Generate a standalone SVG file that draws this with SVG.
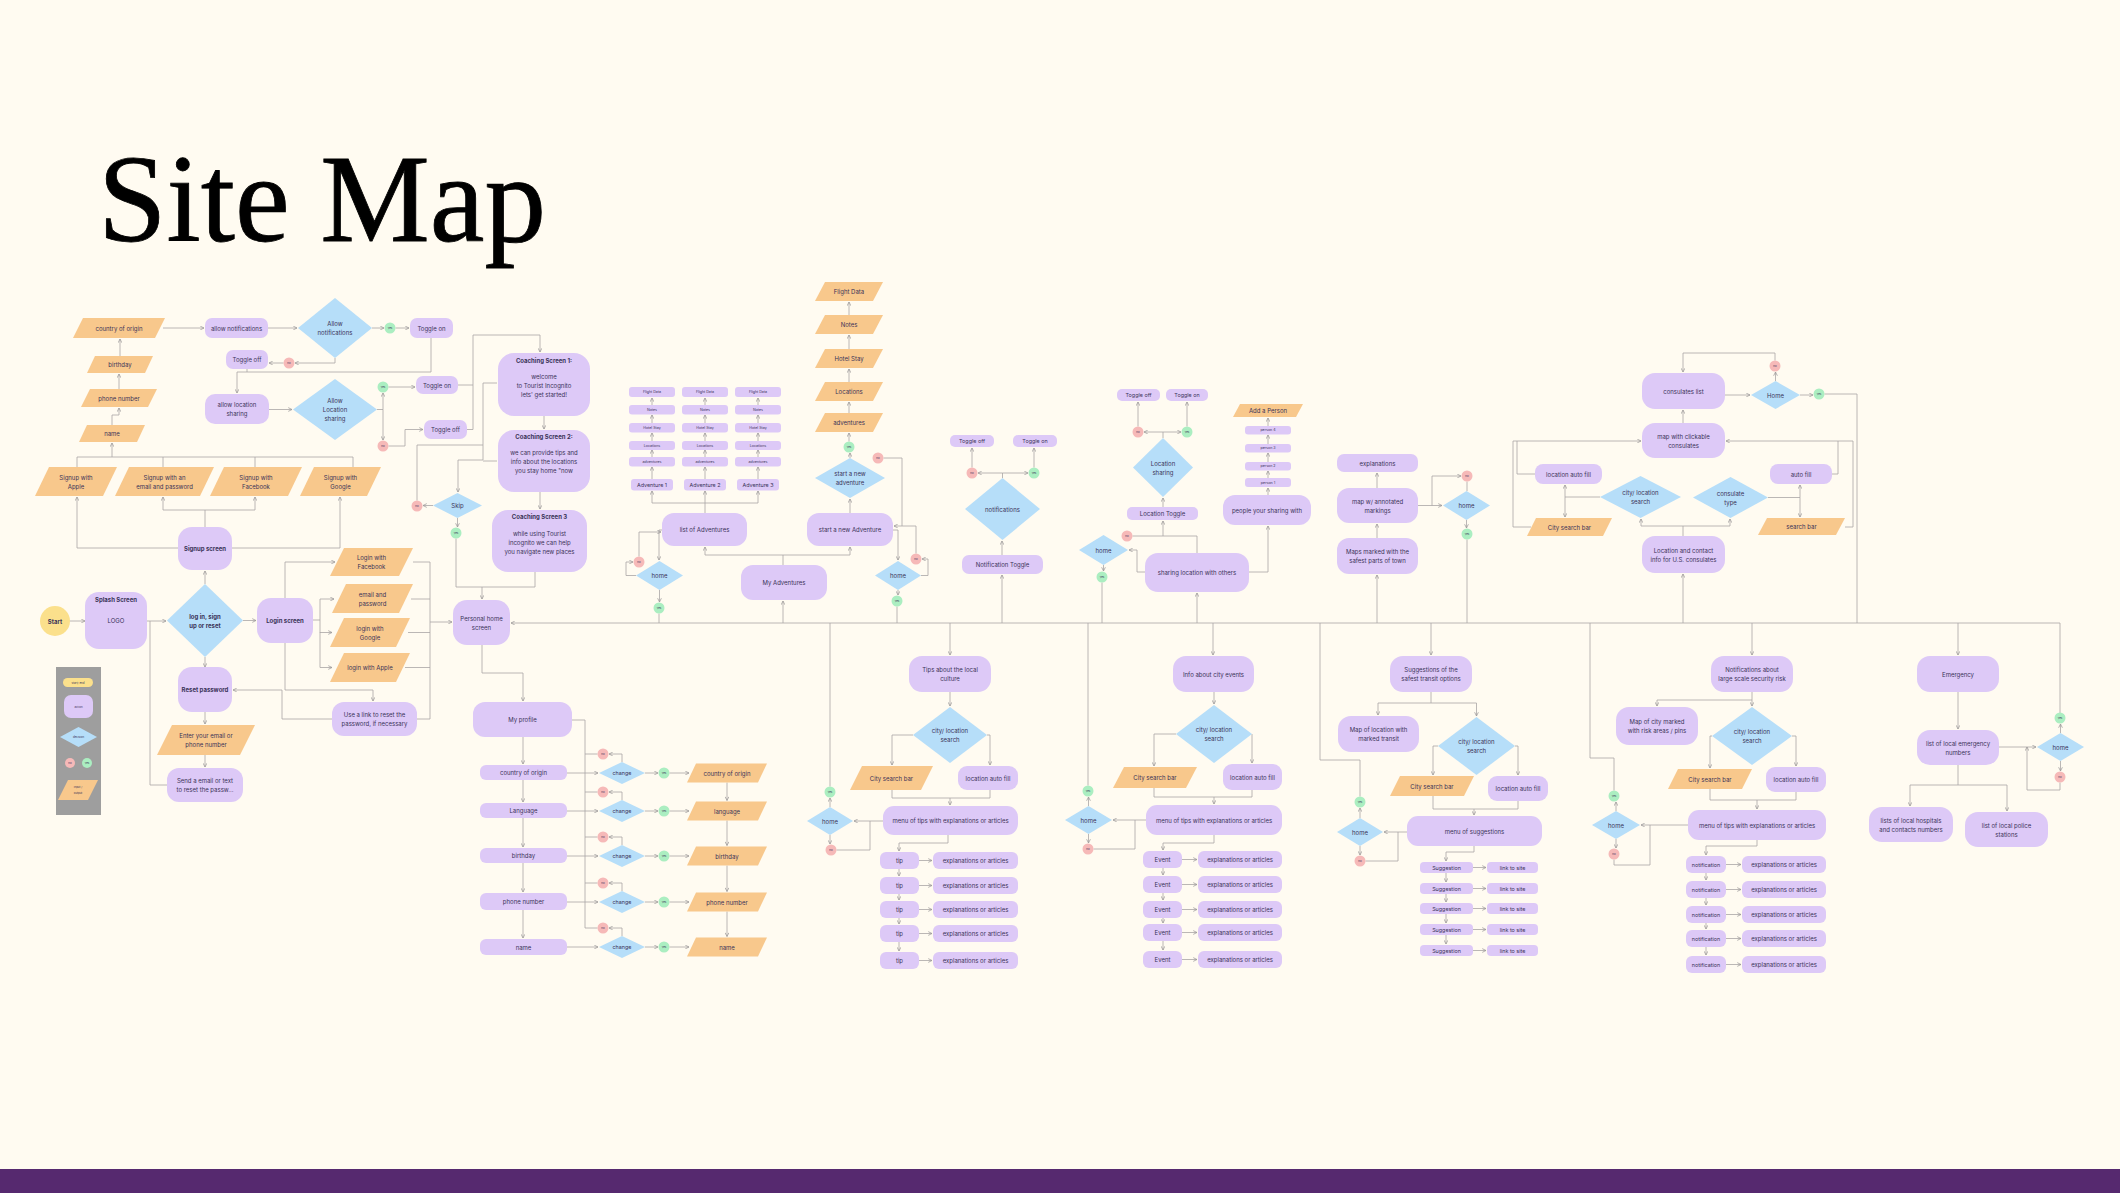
<svg xmlns="http://www.w3.org/2000/svg" width="2120" height="1193" viewBox="0 0 2120 1193">
<defs>
<marker id="a" viewBox="0 0 6 6" refX="5.5" refY="3" markerWidth="4.5" markerHeight="4.5" markerUnits="userSpaceOnUse" orient="auto"><path d="M0.5,0.5 L5.5,3 L0.5,5.5" fill="none" stroke="#9c9a9a" stroke-width="1"/></marker>
<style>
.p{fill:#DDC9F7}
.b{fill:#B6DEF9}
.o{fill:#F8C88C}
.g{fill:#ABEEC1}
.r{fill:#F6B9B8}
.yl{fill:#FBE08C}
text{font-family:Inter,"Liberation Sans",sans-serif;font-size:6px;fill:#3a3358;text-anchor:middle;dominant-baseline:central}
.bd{font-weight:700}
.s{font-size:3.6px}
.xs{font-size:2.8px}
.m{font-size:5.4px}
.title{font-family:"Liberation Serif",serif;font-size:124px;fill:#000;stroke:#000;stroke-width:0.8;text-anchor:start;dominant-baseline:auto}
#conn path{fill:none;stroke:#a9a6a6;stroke-width:0.8;marker-end:url(#a)}
#conn path.j{marker-end:none}
</style>
</defs>
<rect width="2120" height="1193" fill="#FFFBF1"/>
<rect y="1169" width="2120" height="24" fill="#56296F"/>
<text class="title" x="98" y="241" textLength="448" lengthAdjust="spacingAndGlyphs">Site Map</text>

<g id="conn">
<!-- bus -->
<path d="M2060 713 V623 H511"/>
<!-- section A -->
<path d="M69 621 H85"/>
<path d="M147 621 H166"/>
<path class="j" d="M167 785 H150 V621"/>
<path d="M205 584 V571"/>
<path d="M205 657 V667"/>
<path d="M243 620.5 H256"/>
<path d="M205 712 V724"/>
<path d="M205 755 V767"/>
<path d="M313 620 H320 V599 H334"/>
<path d="M320 620 V632.5 H332"/>
<path d="M320 632 V667.5 H332"/>
<path d="M285 598 V562 H335"/>
<path d="M285 643 V690 H373 V701"/>
<path class="j" d="M413 562 H430 V719 H417"/>
<path class="j" d="M411 599 H430 M408 632.5 H430 M405 667.5 H430"/>
<path d="M430 622 H452"/>
<path d="M332 719 H282 V690 H233"/>
<path d="M178 548 H77 V497"/>
<path d="M232 548 H340 V497"/>
<path class="j" d="M205 527 V510 M163 510 H255"/>
<path d="M163 510 V497"/>
<path d="M255 510 V497"/>
<path class="j" d="M77 467 V457 H353 V467 M163 457 V467 M255 457 V467"/>
<path d="M112 457 V443"/>
<path d="M112 425 V415 H119 V408"/>
<path d="M119 389 V374"/>
<path d="M120 356 V339"/>
<path d="M163 328 H204"/>
<path d="M268 328 H297"/>
<path d="M372 328 H384"/>
<path d="M395.5 328 H409"/>
<path d="M335 358 V363 H295"/>
<path d="M283.5 363 H269"/>
<path d="M431 338 V372 H237 V393"/>
<path class="j" d="M247 369 V372"/>
<path d="M269 409.5 H292"/>
<path d="M377 409.5 H383 V393"/>
<path d="M388.5 387 H415"/>
<path d="M383 409.5 V440"/>
<path d="M388.5 446 H405 V429.5 H423"/>
<path d="M458 385 H473 V335 H540 V352"/>
<path class="j" d="M467 429.5 H473 V385"/>
<path d="M544 416 V429"/>
<path d="M540 492 V509"/>
<path d="M497 383 H483 V460 H458 V492"/>
<path class="j" d="M497 461 H483"/>
<path d="M433 505.5 H423"/>
<path class="j" d="M417 500.5 V445 H483"/>
<path d="M457.5 518 V527"/>
<path d="M456 538.5 V587 H482 V599"/>
<path class="j" d="M535 572 V587 H482"/>
<path d="M482 645 V673 H523 V701"/>
<!-- profile -->
<path d="M523 737 V764"/>
<path d="M523 780 V802"/>
<path d="M523 818 V847"/>
<path d="M523 863 V892"/>
<path d="M523 910 V938"/>
<path class="j" d="M572 720 H585 V928"/>
<path d="M567 773 H598"/><path d="M622 762 V754 H609"/><path class="j" d="M597.5 754 H585"/><path d="M645 773 H658"/><path d="M669.5 773 H689"/>
<path d="M567 811 H598"/><path d="M622 800 V792 H609"/><path class="j" d="M597.5 792 H585"/><path d="M645 811 H658"/><path d="M669.5 811 H689"/>
<path d="M567 856 H598"/><path d="M622 845 V837 H609"/><path class="j" d="M597.5 837 H585"/><path d="M645 856 H658"/><path d="M669.5 856 H689"/>
<path d="M567 902 H598"/><path d="M622 891 V883 H609"/><path class="j" d="M597.5 883 H585"/><path d="M645 902 H658"/><path d="M669.5 902 H689"/>
<path d="M567 947 H598"/><path d="M622 936 V928 H609"/><path class="j" d="M597.5 928 H585"/><path d="M645 947 H658"/><path d="M669.5 947 H689"/>
<path d="M727 782.5 V800.5"/>
<path d="M727 820.5 V845.5"/>
<path d="M727 865.5 V891.5"/>
<path d="M727 911.5 V936.5"/>
<!-- adventures -->
<path d="M783 623 V601"/>
<path d="M783 565 V555 H705 V547"/>
<path d="M783 555 H850 V547"/>
<path d="M705 513 V503 H652 V491"/>
<path d="M705 503 V491"/>
<path d="M705 503 H758 V491"/>
<path d="M652 479 V467"/><path d="M652 457 V450"/><path d="M652 441 V433"/><path d="M652 423 V415"/><path d="M652 405 V398"/>
<path d="M705 479 V467"/><path d="M705 457 V450"/><path d="M705 441 V433"/><path d="M705 423 V415"/><path d="M705 405 V398"/>
<path d="M758 479 V467"/><path d="M758 457 V450"/><path d="M758 441 V433"/><path d="M758 423 V415"/><path d="M758 405 V398"/>
<path d="M662 530 H659 V560"/>
<path d="M636 575.5 H626 V562 H633"/>
<path d="M639 556.5 V532 H661"/>
<path d="M659.5 590 V602"/>
<path class="j" d="M659 613.5 V623"/>
<path d="M893 530 H898 V560"/>
<path d="M921 575.5 H928 V559 H922"/>
<path d="M883.5 458 H902 V526 H894"/>
<path class="j" d="M916 553.5 V526 H902"/>
<path d="M898 590 V595"/>
<path class="j" d="M897 606.5 V623"/>
<path d="M850 513 V499"/>
<path d="M850 458 V453"/>
<path d="M849 441.5 V433"/>
<path d="M849 413 V402"/>
<path d="M849 382 V369"/>
<path d="M849 349 V335"/>
<path d="M849 315 V302"/>
<!-- notification toggle -->
<path d="M1002 623 V575"/>
<path d="M1002 555 V541"/>
<path d="M1002.5 478 V473 H978"/>
<path d="M1002.5 473 H1028"/>
<path d="M972 467.5 V448"/>
<path d="M1034 467.5 V448"/>
<!-- location sharing -->
<path d="M1197 623 V593"/>
<path d="M1197 553 V536 H1163 V521"/>
<path class="j" d="M1132.5 536 H1163"/>
<path d="M1145 572 H1137 V550 H1129"/>
<path d="M1103.5 565 V571"/>
<path class="j" d="M1102 582.5 V623"/>
<path d="M1163 507 V498"/>
<path d="M1163 438 V432 H1144"/>
<path d="M1163 432 H1181"/>
<path d="M1138 426.5 V402"/>
<path d="M1187 426.5 V402"/>
<path d="M1249 572 H1268 V526"/>
<path d="M1268 495 V488"/>
<path d="M1268 478 V471"/>
<path d="M1268 462 V453"/>
<path d="M1268 444 V435"/>
<path d="M1268 426 V418"/>
<!-- safe maps -->
<path d="M1377 623 V575"/>
<path d="M1377 538 V524"/>
<path d="M1377 488 V473"/>
<path d="M1418 505.5 H1442"/>
<path d="M1432 505.5 V476 H1461"/>
<path class="j" d="M1467 481.5 V491"/>
<path d="M1466.5 520 V528"/>
<path class="j" d="M1467 539.5 V623"/>
<!-- consulates -->
<path d="M1683 623 V574"/>
<path d="M1683 536 V526 H1641 V519"/>
<path d="M1683 526 H1730 V519"/>
<path d="M1600 497 H1565 V485"/>
<path d="M1565 497 V517"/>
<path d="M1535 474 H1517 V441 H1641"/>
<path class="j" d="M1531 527 H1513 V441 H1517"/>
<path d="M1768 497.5 H1800 V485"/>
<path d="M1800 497.5 V517"/>
<path d="M1832 474 H1838 V441 H1726"/>
<path class="j" d="M1845 527 H1853 V441 H1838"/>
<path d="M1683 423 V410"/>
<path d="M1725 395 H1750"/>
<path d="M1775.5 381 V372"/>
<path d="M1775 360.5 V353 H1683 V372"/>
<path d="M1800 395 H1813"/>
<path class="j" d="M1824.5 394 H1857 V623"/>
<!-- tips -->
<path d="M950 623 V655"/>
<path d="M950 692 V706"/>
<path d="M913 735 H892 V765"/>
<path d="M987 735 H990 V765"/>
<path d="M892 790 V798 H950 V805"/>
<path class="j" d="M990 790 V798 H950"/>
<path d="M883 821 H854"/>
<path class="j" d="M836.5 850 H870 V821"/>
<path d="M830 807 V798"/>
<path class="j" d="M830 786.5 V623"/>
<path d="M830 835 V844"/>
<path d="M948 835 V843 H899 V851"/>
<path d="M899 869 V876"/><path d="M899 894 V900"/><path d="M899 918 V924"/><path d="M899 942 V951"/>
<path d="M919 860.5 H932"/><path d="M919 885.5 H932"/><path d="M919 909.5 H932"/><path d="M919 933.5 H932"/><path d="M919 960.5 H932"/>
<!-- events -->
<path d="M1213 623 V655"/>
<path d="M1214 692 V704"/>
<path d="M1176 734 H1154 V766"/>
<path d="M1252 734 V763"/>
<path d="M1154 788 V797 H1214 V804"/>
<path class="j" d="M1252 790 V797 H1214"/>
<path d="M1146 820 H1113"/>
<path class="j" d="M1093.5 849 H1135 V820"/>
<path d="M1088.5 806 V797"/>
<path class="j" d="M1088 785.5 V623"/>
<path d="M1088.5 834 V843"/>
<path d="M1214 835 V843 H1163 V850"/>
<path d="M1163 868 V875"/><path d="M1163 893 V900"/><path d="M1163 918 V923"/><path d="M1163 941 V950"/>
<path d="M1182 859.5 H1197"/><path d="M1182 884.5 H1197"/><path d="M1182 909.5 H1197"/><path d="M1182 932.5 H1197"/><path d="M1182 959.5 H1197"/>
<!-- suggestions -->
<path d="M1431 623 V655"/>
<path d="M1431 692 V703 H1378 V715"/>
<path d="M1431 703 H1476.5 V716"/>
<path d="M1438 746 H1433 V775"/>
<path d="M1515 746 H1518 V775"/>
<path d="M1433 796 V809 H1474 V815"/>
<path class="j" d="M1518 801 V809 H1474"/>
<path d="M1407 832 H1384"/>
<path class="j" d="M1365.5 861 H1398 V832"/>
<path d="M1360 818 V808"/>
<path class="j" d="M1360 796.5 V760 H1320 V623"/>
<path d="M1360 846 V855"/>
<path d="M1474 846 V852 H1446 V861"/>
<path d="M1446 873 V882"/><path d="M1446 894 V902"/><path d="M1446 914 V923"/><path d="M1446 935 V944"/>
<path d="M1473 867.5 H1486"/><path d="M1473 888.5 H1486"/><path d="M1473 908.5 H1486"/><path d="M1473 929.5 H1486"/><path d="M1473 950.5 H1486"/>
<!-- notifications -->
<path d="M1752 623 V655"/>
<path d="M1752 692 V700 H1657 V706"/>
<path d="M1752 700 V706"/>
<path d="M1712 736 H1710 V768"/>
<path d="M1792 736 H1796 V766"/>
<path d="M1710 789 V800 H1757 V809"/>
<path class="j" d="M1796 792 V800 H1757"/>
<path d="M1688 825 H1641"/>
<path class="j" d="M1614 859.5 V865 H1650 V825"/>
<path d="M1616 811 V802"/>
<path class="j" d="M1614 790.5 V758 H1590 V623"/>
<path d="M1616 839 V848"/>
<path d="M1757 840 V846 H1706 V855"/>
<path d="M1706 873 V880"/><path d="M1706 898 V905"/><path d="M1706 923 V929"/><path d="M1706 947 V955"/>
<path d="M1726 864.5 H1741"/><path d="M1726 889.5 H1741"/><path d="M1726 914.5 H1741"/><path d="M1726 938.5 H1741"/><path d="M1726 964.5 H1741"/>
<!-- emergency -->
<path d="M1958 623 V655"/>
<path d="M1958 692 V729"/>
<path d="M1958 765 V785 H1910 V806"/>
<path d="M1958 785 H2007 V811"/>
<path d="M1999 747 H2036"/>
<path d="M2060.5 761 V771"/>
<path d="M2060 782.5 V790 H2027 V747"/>
<path d="M2060.5 733 V724"/>
</g>

<!-- Legend -->
<g id="legend">
<rect x="56" y="667" width="45" height="148" fill="#9E9E9E"/>
<rect class="yl" x="63" y="678" width="30" height="9" rx="4.5"/><text class="xs" x="78" y="682.5">start/ end</text>
<rect class="p" x="64" y="695" width="29" height="23" rx="7"/><text class="xs" x="78.5" y="706.5">action</text>
<polygon class="b" points="78.5,727 97,737 78.5,747 60,737"/><text class="xs" x="78.5" y="737">decision</text>
<circle class="r" cx="70" cy="763" r="5"/><text class="xs" x="70" y="763">no</text>
<circle class="g" cx="87" cy="763" r="5"/><text class="xs" x="87" y="763">yes</text>
<polygon class="o" points="68,780 98,780 88,800 58,800"/><text class="xs" x="78" y="787">input /</text><text class="xs" x="78" y="793">output</text>
</g>

<!-- Section A -->
<g id="start"><circle class="yl" cx="55" cy="621" r="15"/><text class="bd" x="55" y="621">Start</text></g>
<g id="splash"><rect class="p" x="85" y="592" width="62" height="57" rx="14"/><text class="bd" x="116" y="599.5">Splash Screen</text><text x="116" y="620">LOGO</text></g>
<g id="d-login"><polygon class="b" points="205,584 243,620.5 205,657 167,620.5"/><text class="bd" x="205" y="616">log in, sign</text><text class="bd" x="205" y="625">up or reset</text></g>
<g id="signup-screen"><rect class="p" x="178" y="527" width="54" height="43" rx="14"/><text class="bd" x="205" y="548.5">Signup screen</text></g>
<g id="login-screen"><rect class="p" x="257" y="598" width="56" height="45" rx="14"/><text class="bd" x="285" y="620.5">Login screen</text></g>
<g id="reset-pw"><rect class="p" x="178" y="667" width="54" height="45" rx="14"/><text class="bd" x="205" y="689.5">Reset password</text></g>
<g id="enter-email"><polygon class="o" points="172,725 255,725 240,755 157,755"/><text x="206" y="735.5">Enter your email or</text><text x="206" y="744.5">phone number</text></g>
<g id="send-email"><rect class="p" x="167" y="768" width="76" height="34" rx="12"/><text x="205" y="780.5">Send a email or text</text><text x="205" y="789.5">to reset the passw...</text></g>
<g id="login-fb"><polygon class="o" points="344,548 413,548 399,576 330,576"/><text x="371.5" y="557.5">Login with</text><text x="371.5" y="566.5">Facebook</text></g>
<g id="login-email"><polygon class="o" points="346,584 413,584 399,613 332,613"/><text x="372.5" y="594">email and</text><text x="372.5" y="603">password</text></g>
<g id="login-google"><polygon class="o" points="344,618 410,618 396,647 330,647"/><text x="370" y="628">login with</text><text x="370" y="637">Google</text></g>
<g id="login-apple"><polygon class="o" points="344,653 410,653 396,682 330,682"/><text x="370" y="667.5">login with Apple</text></g>
<g id="use-link"><rect class="p" x="332" y="702" width="85" height="34" rx="12"/><text x="374.5" y="714.5">Use a link to reset the</text><text x="374.5" y="723.5">password, if necessary</text></g>
<g id="home-screen"><rect class="p" x="453" y="600" width="57" height="45" rx="14"/><text x="481.5" y="618">Personal home</text><text x="481.5" y="627">screen</text></g>
<g id="signup-apple"><polygon class="o" points="49,467 117,467 103,496 35,496"/><text x="76" y="477">Signup with</text><text x="76" y="486">Apple</text></g>
<g id="signup-email"><polygon class="o" points="129,467 214,467 200,496 115,496"/><text x="164.5" y="477">Signup with an</text><text x="164.5" y="486">email and password</text></g>
<g id="signup-fb"><polygon class="o" points="224,467 302,467 288,496 210,496"/><text x="256" y="477">Signup with</text><text x="256" y="486">Facebook</text></g>
<g id="signup-google"><polygon class="o" points="314,467 381,467 367,496 300,496"/><text x="340.5" y="477">Signup with</text><text x="340.5" y="486">Google</text></g>
<g id="name"><polygon class="o" points="87,425 145,425 137,442 79,442"/><text x="112" y="433.5">name</text></g>
<g id="phone"><polygon class="o" points="90,389 157,389 148,407 81,407"/><text x="119" y="398">phone number</text></g>
<g id="birthday"><polygon class="o" points="95,356 153,356 145,373 87,373"/><text x="120" y="364.5">birthday</text></g>
<g id="country"><polygon class="o" points="83,318 165,318 155,338 73,338"/><text x="119" y="328">country of origin</text></g>
<g id="allow-notif"><rect class="p" x="205" y="318" width="63" height="20" rx="7"/><text x="236.5" y="328">allow notifications</text></g>
<g id="d-notif"><polygon class="b" points="335,298 372,328 335,358 298,328"/><text x="335" y="323.5">Allow</text><text x="335" y="332.5">notifications</text></g>
<g id="yes1"><circle class="g" cx="390" cy="328" r="5.5"/><text class="xs" x="390" y="328">yes</text></g>
<g id="toggle-on1"><rect class="p" x="410" y="318" width="43" height="20" rx="7"/><text x="431.5" y="328">Toggle on</text></g>
<g id="no1"><circle class="r" cx="289" cy="363" r="5.5"/><text class="xs" x="289" y="363">no</text></g>
<g id="toggle-off1"><rect class="p" x="226" y="350" width="42" height="19" rx="7"/><text x="247" y="359.5">Toggle off</text></g>
<g id="allow-loc"><rect class="p" x="205" y="394" width="64" height="30" rx="10"/><text x="237" y="404.5">allow location</text><text x="237" y="413.5">sharing</text></g>
<g id="d-loc"><polygon class="b" points="335,379 377,409.5 335,440 293,409.5"/><text x="335" y="400.5">Allow</text><text x="335" y="409.5">Location</text><text x="335" y="418.5">sharing</text></g>
<g id="yes2"><circle class="g" cx="383" cy="387" r="5.5"/><text class="xs" x="383" y="387">yes</text></g>
<g id="toggle-on2"><rect class="p" x="416" y="376" width="42" height="18" rx="7"/><text x="437" y="385">Toggle on</text></g>
<g id="no2"><circle class="r" cx="383" cy="446" r="5.5"/><text class="xs" x="383" y="446">no</text></g>
<g id="toggle-off2"><rect class="p" x="424" y="420" width="43" height="19" rx="7"/><text x="445.5" y="429.5">Toggle off</text></g>
<g id="cs1"><rect class="p" x="498" y="353" width="92" height="63" rx="16"/><text class="bd" x="544" y="360">Coaching Screen 1:</text><text x="544" y="376">welcome</text><text x="544" y="385">to Tourist Incognito</text><text x="544" y="394">lets' get started!</text></g>
<g id="cs2"><rect class="p" x="498" y="430" width="92" height="62" rx="16"/><text class="bd" x="544" y="436.5">Coaching Screen 2:</text><text x="544" y="452">we can provide tips and</text><text x="544" y="461">info about the locations</text><text x="544" y="470">you stay home "now</text></g>
<g id="cs3"><rect class="p" x="492" y="510" width="95" height="62" rx="16"/><text class="bd" x="539.5" y="516.5">Coaching Screen 3</text><text x="539.5" y="533">while using Tourist</text><text x="539.5" y="542">incognito we can help</text><text x="539.5" y="551">you navigate new places</text></g>
<g id="skip"><polygon class="b" points="457.5,493 482,505.5 457.5,518 433,505.5"/><text x="457.5" y="505.5">Skip</text></g>
<g id="no3"><circle class="r" cx="417" cy="506" r="5.5"/><text class="xs" x="417" y="506">no</text></g>
<g id="yes3"><circle class="g" cx="456" cy="533" r="5.5"/><text class="xs" x="456" y="533">yes</text></g>

<!-- Profile -->
<g id="my-profile"><rect class="p" x="473" y="702" width="99" height="35" rx="12"/><text x="522.5" y="719.5">My profile</text></g>
<g id="pf-country"><rect class="p" x="480" y="765" width="87" height="15" rx="6"/><text x="523.5" y="772.5">country of origin</text></g>
<g id="pf-language"><rect class="p" x="480" y="803" width="87" height="15" rx="6"/><text x="523.5" y="810.5">Language</text></g>
<g id="pf-birthday"><rect class="p" x="480" y="848" width="87" height="15" rx="6"/><text x="523.5" y="855.5">birthday</text></g>
<g id="pf-phone"><rect class="p" x="480" y="893" width="87" height="17" rx="6"/><text x="523.5" y="901.5">phone number</text></g>
<g id="pf-name"><rect class="p" x="480" y="939" width="87" height="16" rx="6"/><text x="523.5" y="947">name</text></g>
<g id="ch1"><polygon class="b" points="622,762 645,773 622,784 599,773"/><text class="m" x="622" y="773">change</text></g>
<g id="ch2"><polygon class="b" points="622,800 645,811 622,822 599,811"/><text class="m" x="622" y="811">change</text></g>
<g id="ch3"><polygon class="b" points="622,845 645,856 622,867 599,856"/><text class="m" x="622" y="856">change</text></g>
<g id="ch4"><polygon class="b" points="622,891 645,902 622,913 599,902"/><text class="m" x="622" y="902">change</text></g>
<g id="ch5"><polygon class="b" points="622,936 645,947 622,958 599,947"/><text class="m" x="622" y="947">change</text></g>
<g id="chno1"><circle class="r" cx="603" cy="754" r="5.5"/><text class="xs" x="603" y="754">no</text></g>
<g id="chno2"><circle class="r" cx="603" cy="792" r="5.5"/><text class="xs" x="603" y="792">no</text></g>
<g id="chno3"><circle class="r" cx="603" cy="837" r="5.5"/><text class="xs" x="603" y="837">no</text></g>
<g id="chno4"><circle class="r" cx="603" cy="883" r="5.5"/><text class="xs" x="603" y="883">no</text></g>
<g id="chno5"><circle class="r" cx="603" cy="928" r="5.5"/><text class="xs" x="603" y="928">no</text></g>
<g id="chyes1"><circle class="g" cx="664" cy="773" r="5.5"/><text class="xs" x="664" y="773">yes</text></g>
<g id="chyes2"><circle class="g" cx="664" cy="811" r="5.5"/><text class="xs" x="664" y="811">yes</text></g>
<g id="chyes3"><circle class="g" cx="664" cy="856" r="5.5"/><text class="xs" x="664" y="856">yes</text></g>
<g id="chyes4"><circle class="g" cx="664" cy="902" r="5.5"/><text class="xs" x="664" y="902">yes</text></g>
<g id="chyes5"><circle class="g" cx="664" cy="947" r="5.5"/><text class="xs" x="664" y="947">yes</text></g>
<g id="in-country"><polygon class="o" points="696,763.5 767,763.5 758,782.5 687,782.5"/><text x="727" y="773">country of origin</text></g>
<g id="in-language"><polygon class="o" points="696,801.5 767,801.5 758,820.5 687,820.5"/><text x="727" y="811">language</text></g>
<g id="in-birthday"><polygon class="o" points="696,846.5 767,846.5 758,865.5 687,865.5"/><text x="727" y="856">birthday</text></g>
<g id="in-phone"><polygon class="o" points="696,892.5 767,892.5 758,911.5 687,911.5"/><text x="727" y="902">phone number</text></g>
<g id="in-name"><polygon class="o" points="696,937.5 767,937.5 758,956.5 687,956.5"/><text x="727" y="947">name</text></g>

<!-- Adventures -->
<g id="adv1"><rect class="p" x="629" y="387" width="46" height="10" rx="3"/><text class="s" x="652" y="392">Flight Data</text><rect class="p" x="629" y="405" width="46" height="9.5" rx="3"/><text class="s" x="652" y="409.7">Notes</text><rect class="p" x="629" y="423" width="46" height="9.5" rx="3"/><text class="s" x="652" y="427.7">Hotel Stay</text><rect class="p" x="629" y="441" width="46" height="9" rx="3"/><text class="s" x="652" y="445.5">Locations</text><rect class="p" x="629" y="457" width="46" height="9.5" rx="3"/><text class="s" x="652" y="461.7">adventures</text><rect class="p" x="631" y="479" width="42" height="11.5" rx="3"/><text class="m" x="652" y="484.7">Adventure 1</text></g>
<g id="adv2"><rect class="p" x="682" y="387" width="46" height="10" rx="3"/><text class="s" x="705" y="392">Flight Data</text><rect class="p" x="682" y="405" width="46" height="9.5" rx="3"/><text class="s" x="705" y="409.7">Notes</text><rect class="p" x="682" y="423" width="46" height="9.5" rx="3"/><text class="s" x="705" y="427.7">Hotel Stay</text><rect class="p" x="682" y="441" width="46" height="9" rx="3"/><text class="s" x="705" y="445.5">Locations</text><rect class="p" x="682" y="457" width="46" height="9.5" rx="3"/><text class="s" x="705" y="461.7">adventures</text><rect class="p" x="684" y="479" width="42" height="11.5" rx="3"/><text class="m" x="705" y="484.7">Adventure 2</text></g>
<g id="adv3"><rect class="p" x="735" y="387" width="46" height="10" rx="3"/><text class="s" x="758" y="392">Flight Data</text><rect class="p" x="735" y="405" width="46" height="9.5" rx="3"/><text class="s" x="758" y="409.7">Notes</text><rect class="p" x="735" y="423" width="46" height="9.5" rx="3"/><text class="s" x="758" y="427.7">Hotel Stay</text><rect class="p" x="735" y="441" width="46" height="9" rx="3"/><text class="s" x="758" y="445.5">Locations</text><rect class="p" x="735" y="457" width="46" height="9.5" rx="3"/><text class="s" x="758" y="461.7">adventures</text><rect class="p" x="737" y="479" width="42" height="11.5" rx="3"/><text class="m" x="758" y="484.7">Adventure 3</text></g>
<g id="list-adv"><rect class="p" x="662" y="513" width="85" height="33" rx="12"/><text x="704.5" y="529.5">list of Adventures</text></g>
<g id="start-adv"><rect class="p" x="807" y="513" width="86" height="33" rx="12"/><text x="850" y="529.5">start a new Adventure</text></g>
<g id="my-adv"><rect class="p" x="741" y="565" width="86" height="35" rx="12"/><text x="784" y="582.5">My Adventures</text></g>
<g id="home-adv1"><polygon class="b" points="659.5,561 683,575.5 659.5,590 636,575.5"/><text x="659.5" y="575.5">home</text></g>
<g id="no-adv1"><circle class="r" cx="639" cy="562" r="5.5"/><text class="xs" x="639" y="562">no</text></g>
<g id="yes-adv1"><circle class="g" cx="659" cy="608" r="5.5"/><text class="xs" x="659" y="608">yes</text></g>
<g id="home-adv2"><polygon class="b" points="898,561 921,575.5 898,590 875,575.5"/><text x="898" y="575.5">home</text></g>
<g id="no-adv2"><circle class="r" cx="916" cy="559" r="5.5"/><text class="xs" x="916" y="559">no</text></g>
<g id="yes-adv2"><circle class="g" cx="897" cy="601" r="5.5"/><text class="xs" x="897" y="601">yes</text></g>
<g id="d-newadv"><polygon class="b" points="850,458 885,478 850,498 815,478"/><text x="850" y="473.5">start a new</text><text x="850" y="482.5">adventure</text></g>
<g id="yes-newadv"><circle class="g" cx="849" cy="447" r="5.5"/><text class="xs" x="849" y="447">yes</text></g>
<g id="no-newadv"><circle class="r" cx="878" cy="458" r="5.5"/><text class="xs" x="878" y="458">no</text></g>
<g id="o-flight"><polygon class="o" points="825,282 883,282 873,301 815,301"/><text x="849" y="291.5">Flight Data</text></g>
<g id="o-notes"><polygon class="o" points="825,315 883,315 873,334 815,334"/><text x="849" y="324.5">Notes</text></g>
<g id="o-hotel"><polygon class="o" points="825,349 883,349 873,368 815,368"/><text x="849" y="358.5">Hotel Stay</text></g>
<g id="o-locations"><polygon class="o" points="825,382 883,382 873,401 815,401"/><text x="849" y="391.5">Locations</text></g>
<g id="o-adventures"><polygon class="o" points="825,413 883,413 873,432 815,432"/><text x="849" y="422.5">adventures</text></g>

<!-- Notification toggle -->
<g id="notif-toggle"><rect class="p" x="962" y="555" width="81" height="19" rx="7"/><text x="1002.5" y="564.5">Notification Toggle</text></g>
<g id="d-notifs"><polygon class="b" points="1002.5,478 1040,509 1002.5,540 965,509"/><text x="1002.5" y="509">notifications</text></g>
<g id="toff3"><rect class="p" x="950" y="435" width="44" height="12" rx="5"/><text class="m" x="972" y="441">Toggle off</text></g>
<g id="ton3"><rect class="p" x="1013" y="435" width="44" height="12" rx="5"/><text class="m" x="1035" y="441">Toggle on</text></g>
<g id="no-n3"><circle class="r" cx="972" cy="473" r="5.5"/><text class="xs" x="972" y="473">no</text></g>
<g id="yes-n3"><circle class="g" cx="1034" cy="473" r="5.5"/><text class="xs" x="1034" y="473">yes</text></g>

<!-- Location sharing -->
<g id="toff4"><rect class="p" x="1117" y="389" width="43" height="12" rx="5"/><text class="m" x="1138.5" y="395">Toggle off</text></g>
<g id="ton4"><rect class="p" x="1166" y="389" width="42" height="12" rx="5"/><text class="m" x="1187" y="395">Toggle on</text></g>
<g id="no-l4"><circle class="r" cx="1138" cy="432" r="5.5"/><text class="xs" x="1138" y="432">no</text></g>
<g id="yes-l4"><circle class="g" cx="1187" cy="432" r="5.5"/><text class="xs" x="1187" y="432">yes</text></g>
<g id="d-locshare"><polygon class="b" points="1163,438 1193,467.5 1163,497 1133,467.5"/><text x="1163" y="463">Location</text><text x="1163" y="472">sharing</text></g>
<g id="loc-toggle"><rect class="p" x="1127" y="507" width="71" height="13" rx="5"/><text x="1162.5" y="513.5">Location Toggle</text></g>
<g id="sharing"><rect class="p" x="1145" y="553" width="104" height="39" rx="13"/><text x="1197" y="572.5">sharing location with others</text></g>
<g id="home-share"><polygon class="b" points="1103.5,535 1128,550 1103.5,565 1079,550"/><text x="1103.5" y="550">home</text></g>
<g id="no-share"><circle class="r" cx="1127" cy="536" r="5.5"/><text class="xs" x="1127" y="536">no</text></g>
<g id="yes-share"><circle class="g" cx="1102" cy="577" r="5.5"/><text class="xs" x="1102" y="577">yes</text></g>
<g id="people"><rect class="p" x="1223" y="495" width="88" height="30" rx="12"/><text x="1267" y="510">people your sharing with</text></g>
<g id="person1"><rect class="p" x="1245" y="478" width="46" height="9" rx="3"/><text class="s" x="1268" y="482.5">person 1</text></g>
<g id="person2"><rect class="p" x="1245" y="462" width="46" height="8.5" rx="3"/><text class="s" x="1268" y="466.2">person 2</text></g>
<g id="person3"><rect class="p" x="1245" y="444" width="46" height="8.5" rx="3"/><text class="s" x="1268" y="448.2">person 3</text></g>
<g id="person4"><rect class="p" x="1245" y="426" width="46" height="8.5" rx="3"/><text class="s" x="1268" y="430.2">person 4</text></g>
<g id="add-person"><polygon class="o" points="1240,404 1303,404 1296,417 1233,417"/><text x="1268" y="410.5">Add a Person</text></g>

<!-- Safe maps -->
<g id="explanations"><rect class="p" x="1337" y="454" width="81" height="18" rx="7"/><text x="1377.5" y="463">explanations</text></g>
<g id="map-annot"><rect class="p" x="1337" y="488" width="81" height="35" rx="12"/><text x="1377.5" y="501">map w/ annotated</text><text x="1377.5" y="510">markings</text></g>
<g id="maps-safe"><rect class="p" x="1337" y="538" width="81" height="36" rx="12"/><text x="1377.5" y="551.5">Maps marked with the</text><text x="1377.5" y="560.5">safest parts of town</text></g>
<g id="home-map"><polygon class="b" points="1466.5,491 1490,505.5 1466.5,520 1443,505.5"/><text x="1466.5" y="505.5">home</text></g>
<g id="no-map"><circle class="r" cx="1467" cy="476" r="5.5"/><text class="xs" x="1467" y="476">no</text></g>
<g id="yes-map"><circle class="g" cx="1467" cy="534" r="5.5"/><text class="xs" x="1467" y="534">yes</text></g>

<!-- Consulates -->
<g id="consulates-list"><rect class="p" x="1642" y="373" width="83" height="36" rx="13"/><text x="1683.5" y="391">consulates list</text></g>
<g id="home-cons"><polygon class="b" points="1775.5,381 1800,395 1775.5,409 1751,395"/><text x="1775.5" y="395">Home</text></g>
<g id="no-cons"><circle class="r" cx="1775" cy="366" r="5.5"/><text class="xs" x="1775" y="366">no</text></g>
<g id="yes-cons"><circle class="g" cx="1819" cy="394" r="5.5"/><text class="xs" x="1819" y="394">yes</text></g>
<g id="map-click"><rect class="p" x="1642" y="423" width="83" height="35" rx="13"/><text x="1683.5" y="436">map with clickable</text><text x="1683.5" y="445">consulates</text></g>
<g id="autofill-loc-c"><rect class="p" x="1535" y="464" width="67" height="20" rx="8"/><text x="1568.5" y="474">location auto fill</text></g>
<g id="autofill-c"><rect class="p" x="1770" y="464" width="62" height="20" rx="8"/><text x="1801" y="474">auto fill</text></g>
<g id="d-citysearch-c"><polygon class="b" points="1640.5,476 1681,497 1640.5,518 1600,497"/><text x="1640.5" y="492.5">city/ location</text><text x="1640.5" y="501.5">search</text></g>
<g id="d-constype"><polygon class="b" points="1730.5,477 1768,497.5 1730.5,518 1693,497.5"/><text x="1730.5" y="493">consulate</text><text x="1730.5" y="502">type</text></g>
<g id="citybar-c"><polygon class="o" points="1536,518 1612,518 1603,536 1527,536"/><text x="1569.5" y="527">City search bar</text></g>
<g id="searchbar-c"><polygon class="o" points="1767,518 1845,518 1836,535 1758,535"/><text x="1801.5" y="526.5">search bar</text></g>
<g id="loc-contact"><rect class="p" x="1642" y="536" width="83" height="37" rx="13"/><text x="1683.5" y="550">Location and contact</text><text x="1683.5" y="559">info for U.S. consulates</text></g>

<!-- Tips -->
<g id="tips"><rect class="p" x="909" y="656" width="82" height="36" rx="13"/><text x="950" y="669.5">Tips about the local</text><text x="950" y="678.5">culture</text></g>
<g id="d-tips"><polygon class="b" points="950,707 987,735 950,763 913,735"/><text x="950" y="730.5">city/ location</text><text x="950" y="739.5">search</text></g>
<g id="citybar-t"><polygon class="o" points="862,766 933,766 921,790 850,790"/><text x="891.5" y="778">City search bar</text></g>
<g id="autofill-t"><rect class="p" x="958" y="766" width="60" height="24" rx="9"/><text x="988" y="778">location auto fill</text></g>
<g id="menu-t"><rect class="p" x="883" y="806" width="135" height="29" rx="11"/><text x="950.5" y="820.5">menu of tips with explanations or articles</text></g>
<g id="home-t"><polygon class="b" points="830,807 853,821 830,835 807,821"/><text x="830" y="821">home</text></g>
<g id="yes-t"><circle class="g" cx="830" cy="792" r="5.5"/><text class="xs" x="830" y="792">yes</text></g>
<g id="no-t"><circle class="r" cx="831" cy="850" r="5.5"/><text class="xs" x="831" y="850">no</text></g>
<g id="tip1"><rect class="p" x="880" y="852" width="39" height="17" rx="6"/><text x="899.5" y="860.5">tip</text><rect class="p" x="933" y="852" width="85" height="17" rx="6"/><text x="975.5" y="860.5">explanations or articles</text></g>
<g id="tip2"><rect class="p" x="880" y="877" width="39" height="17" rx="6"/><text x="899.5" y="885.5">tip</text><rect class="p" x="933" y="877" width="85" height="17" rx="6"/><text x="975.5" y="885.5">explanations or articles</text></g>
<g id="tip3"><rect class="p" x="880" y="901" width="39" height="17" rx="6"/><text x="899.5" y="909.5">tip</text><rect class="p" x="933" y="901" width="85" height="17" rx="6"/><text x="975.5" y="909.5">explanations or articles</text></g>
<g id="tip4"><rect class="p" x="880" y="925" width="39" height="17" rx="6"/><text x="899.5" y="933.5">tip</text><rect class="p" x="933" y="925" width="85" height="17" rx="6"/><text x="975.5" y="933.5">explanations or articles</text></g>
<g id="tip5"><rect class="p" x="880" y="952" width="39" height="17" rx="6"/><text x="899.5" y="960.5">tip</text><rect class="p" x="933" y="952" width="85" height="17" rx="6"/><text x="975.5" y="960.5">explanations or articles</text></g>

<!-- Events -->
<g id="info-events"><rect class="p" x="1173" y="656" width="81" height="36" rx="13"/><text x="1213.5" y="674">Info about city events</text></g>
<g id="d-events"><polygon class="b" points="1214,705 1252,734 1214,763 1176,734"/><text x="1214" y="729.5">city/ location</text><text x="1214" y="738.5">search</text></g>
<g id="citybar-e"><polygon class="o" points="1124,767 1197,767 1186,788 1113,788"/><text x="1155" y="777.5">City search bar</text></g>
<g id="autofill-e"><rect class="p" x="1223" y="764" width="59" height="26" rx="9"/><text x="1252.5" y="777">location auto fill</text></g>
<g id="menu-e"><rect class="p" x="1146" y="805" width="136" height="30" rx="11"/><text x="1214" y="820">menu of tips with explanations or articles</text></g>
<g id="home-e"><polygon class="b" points="1088.5,806 1112,820 1088.5,834 1065,820"/><text x="1088.5" y="820">home</text></g>
<g id="yes-e"><circle class="g" cx="1088" cy="791" r="5.5"/><text class="xs" x="1088" y="791">yes</text></g>
<g id="no-e"><circle class="r" cx="1088" cy="849" r="5.5"/><text class="xs" x="1088" y="849">no</text></g>
<g id="event1"><rect class="p" x="1143" y="851" width="39" height="17" rx="6"/><text x="1162.5" y="859.5">Event</text><rect class="p" x="1198" y="851" width="84" height="17" rx="6"/><text x="1240" y="859.5">explanations or articles</text></g>
<g id="event2"><rect class="p" x="1143" y="876" width="39" height="17" rx="6"/><text x="1162.5" y="884.5">Event</text><rect class="p" x="1198" y="876" width="84" height="17" rx="6"/><text x="1240" y="884.5">explanations or articles</text></g>
<g id="event3"><rect class="p" x="1143" y="901" width="39" height="17" rx="6"/><text x="1162.5" y="909.5">Event</text><rect class="p" x="1198" y="901" width="84" height="17" rx="6"/><text x="1240" y="909.5">explanations or articles</text></g>
<g id="event4"><rect class="p" x="1143" y="924" width="39" height="17" rx="6"/><text x="1162.5" y="932.5">Event</text><rect class="p" x="1198" y="924" width="84" height="17" rx="6"/><text x="1240" y="932.5">explanations or articles</text></g>
<g id="event5"><rect class="p" x="1143" y="951" width="39" height="17" rx="6"/><text x="1162.5" y="959.5">Event</text><rect class="p" x="1198" y="951" width="84" height="17" rx="6"/><text x="1240" y="959.5">explanations or articles</text></g>

<!-- Suggestions -->
<g id="suggestions"><rect class="p" x="1390" y="656" width="82" height="36" rx="13"/><text x="1431" y="669.5">Suggestions of the</text><text x="1431" y="678.5">safest transit options</text></g>
<g id="map-transit"><rect class="p" x="1338" y="716" width="81" height="36" rx="13"/><text x="1378.5" y="729.5">Map of location with</text><text x="1378.5" y="738.5">marked transit</text></g>
<g id="d-sugg"><polygon class="b" points="1476.5,717 1515,746 1476.5,775 1438,746"/><text x="1476.5" y="741.5">city/ location</text><text x="1476.5" y="750.5">search</text></g>
<g id="citybar-s"><polygon class="o" points="1400,776 1474,776 1464,796 1390,796"/><text x="1432" y="786">City search bar</text></g>
<g id="autofill-s"><rect class="p" x="1488" y="776" width="60" height="25" rx="9"/><text x="1518" y="788.5">location auto fill</text></g>
<g id="menu-s"><rect class="p" x="1407" y="816" width="135" height="30" rx="11"/><text x="1474.5" y="831">menu of suggestions</text></g>
<g id="home-s"><polygon class="b" points="1360,818 1383,832 1360,846 1337,832"/><text x="1360" y="832">home</text></g>
<g id="yes-s"><circle class="g" cx="1360" cy="802" r="5.5"/><text class="xs" x="1360" y="802">yes</text></g>
<g id="no-s"><circle class="r" cx="1360" cy="861" r="5.5"/><text class="xs" x="1360" y="861">no</text></g>
<g id="sugg1"><rect class="p" x="1420" y="862" width="53" height="11" rx="4"/><text class="m" x="1446.5" y="867.5">Suggestion</text><rect class="p" x="1487" y="862" width="51" height="11" rx="4"/><text class="m" x="1512.5" y="867.5">link to site</text></g>
<g id="sugg2"><rect class="p" x="1420" y="883" width="53" height="11" rx="4"/><text class="m" x="1446.5" y="888.5">Suggestion</text><rect class="p" x="1487" y="883" width="51" height="11" rx="4"/><text class="m" x="1512.5" y="888.5">link to site</text></g>
<g id="sugg3"><rect class="p" x="1420" y="903" width="53" height="11" rx="4"/><text class="m" x="1446.5" y="908.5">Suggestion</text><rect class="p" x="1487" y="903" width="51" height="11" rx="4"/><text class="m" x="1512.5" y="908.5">link to site</text></g>
<g id="sugg4"><rect class="p" x="1420" y="924" width="53" height="11" rx="4"/><text class="m" x="1446.5" y="929.5">Suggestion</text><rect class="p" x="1487" y="924" width="51" height="11" rx="4"/><text class="m" x="1512.5" y="929.5">link to site</text></g>
<g id="sugg5"><rect class="p" x="1420" y="945" width="53" height="11" rx="4"/><text class="m" x="1446.5" y="950.5">Suggestion</text><rect class="p" x="1487" y="945" width="51" height="11" rx="4"/><text class="m" x="1512.5" y="950.5">link to site</text></g>

<!-- Notifications -->
<g id="notif-risk"><rect class="p" x="1711" y="656" width="82" height="36" rx="13"/><text x="1752" y="669.5">Notifications about</text><text x="1752" y="678.5">large scale security risk</text></g>
<g id="map-risk"><rect class="p" x="1616" y="707" width="82" height="38" rx="13"/><text x="1657" y="721.5">Map of city marked</text><text x="1657" y="730.5">with risk areas / pins</text></g>
<g id="d-notifsrch"><polygon class="b" points="1752,707 1792,736 1752,765 1712,736"/><text x="1752" y="731.5">city/ location</text><text x="1752" y="740.5">search</text></g>
<g id="citybar-n"><polygon class="o" points="1678,769 1752,769 1742,789 1668,789"/><text x="1710" y="779">City search bar</text></g>
<g id="autofill-n"><rect class="p" x="1766" y="767" width="60" height="25" rx="9"/><text x="1796" y="779.5">location auto fill</text></g>
<g id="menu-n"><rect class="p" x="1688" y="810" width="138" height="30" rx="11"/><text x="1757" y="825">menu of tips with explanations or articles</text></g>
<g id="home-n"><polygon class="b" points="1616,811 1640,825 1616,839 1592,825"/><text x="1616" y="825">home</text></g>
<g id="yes-n"><circle class="g" cx="1614" cy="796" r="5.5"/><text class="xs" x="1614" y="796">yes</text></g>
<g id="no-n"><circle class="r" cx="1614" cy="854" r="5.5"/><text class="xs" x="1614" y="854">no</text></g>
<g id="notif1"><rect class="p" x="1686" y="856" width="40" height="17" rx="6"/><text class="m" x="1706" y="864.5">notification</text><rect class="p" x="1742" y="856" width="84" height="17" rx="6"/><text x="1784" y="864.5">explanations or articles</text></g>
<g id="notif2"><rect class="p" x="1686" y="881" width="40" height="17" rx="6"/><text class="m" x="1706" y="889.5">notification</text><rect class="p" x="1742" y="881" width="84" height="17" rx="6"/><text x="1784" y="889.5">explanations or articles</text></g>
<g id="notif3"><rect class="p" x="1686" y="906" width="40" height="17" rx="6"/><text class="m" x="1706" y="914.5">notification</text><rect class="p" x="1742" y="906" width="84" height="17" rx="6"/><text x="1784" y="914.5">explanations or articles</text></g>
<g id="notif4"><rect class="p" x="1686" y="930" width="40" height="17" rx="6"/><text class="m" x="1706" y="938.5">notification</text><rect class="p" x="1742" y="930" width="84" height="17" rx="6"/><text x="1784" y="938.5">explanations or articles</text></g>
<g id="notif5"><rect class="p" x="1686" y="956" width="40" height="17" rx="6"/><text class="m" x="1706" y="964.5">notification</text><rect class="p" x="1742" y="956" width="84" height="17" rx="6"/><text x="1784" y="964.5">explanations or articles</text></g>

<!-- Emergency -->
<g id="emergency"><rect class="p" x="1917" y="656" width="82" height="36" rx="13"/><text x="1958" y="674">Emergency</text></g>
<g id="list-emerg"><rect class="p" x="1917" y="730" width="82" height="35" rx="13"/><text x="1958" y="743">list of local emergency</text><text x="1958" y="752">numbers</text></g>
<g id="hospitals"><rect class="p" x="1869" y="807" width="84" height="35" rx="13"/><text x="1911" y="820">lists of local hospitals</text><text x="1911" y="829">and contacts numbers</text></g>
<g id="police"><rect class="p" x="1965" y="812" width="83" height="35" rx="13"/><text x="2006.5" y="825">list of local police</text><text x="2006.5" y="834">stations</text></g>
<g id="home-m"><polygon class="b" points="2060.5,733 2084,747 2060.5,761 2037,747"/><text x="2060.5" y="747">home</text></g>
<g id="yes-m"><circle class="g" cx="2060" cy="718" r="5.5"/><text class="xs" x="2060" y="718">yes</text></g>
<g id="no-m"><circle class="r" cx="2060" cy="777" r="5.5"/><text class="xs" x="2060" y="777">no</text></g>
</svg>
